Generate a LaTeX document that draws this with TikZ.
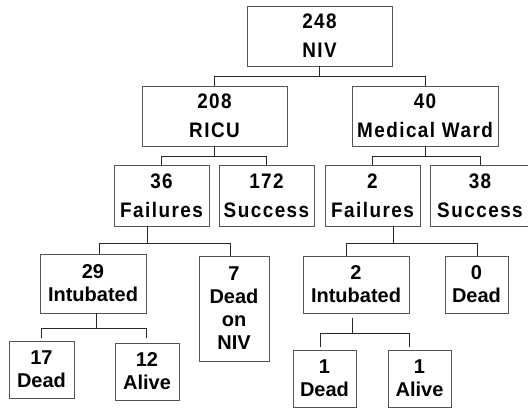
\documentclass[tikz,border=0pt]{standalone}
\usepackage{fontspec}
\usepackage{xcolor}
\newfontfamily\widesans[LetterSpace=7,FakeStretch=0.9]{Liberation Sans}
\newfontfamily\plainsans{Liberation Sans}
\definecolor{edgegray}{rgb}{0.33,0.33,0.33}

\begin{document}
\begin{tikzpicture}[x=1pt,y=-1pt,
    box/.style={draw=edgegray, line width=0.8pt, align=center, inner sep=0pt},
    upper/.style={box, font=\fontsize{21}{29}\selectfont\widesans\bfseries},
    lower/.style={box, font=\fontsize{20}{23}\selectfont\plainsans\bfseries},
    link/.style={draw=black!85, line width=0.7pt}]
    \useasboundingbox (0,0) rectangle (528,409);

    % Top level
    \node[upper, minimum width=145pt, minimum height=60pt] (niv) at (319.5,36) {248\\NIV};

    % Where NIV was given
    \node[upper, minimum width=145pt, minimum height=60pt] (ricu) at (214.5,116) {208\\RICU};
    \node[upper, minimum width=146pt, minimum height=60pt] (ward) at (425,116) {40\\Medical Ward};

    % Outcome of NIV
    \node[upper, minimum width=95pt, minimum height=61pt] (fail36) at (161.5,195.5) {36\\Failures};
    \node[upper, minimum width=95pt, minimum height=61pt] (succ172) at (266.5,195.5) {172\\Success};
    \node[upper, minimum width=95pt, minimum height=61pt] (fail2) at (372.5,195.5) {2\\Failures};
    \node[upper, minimum width=100pt, minimum height=61pt] (succ38) at (480,195.5) {38\\Success};

    % After failure
    \node[lower, minimum width=106pt, minimum height=59pt] (intub29) at (93,283.5) {29\\Intubated};
    \node[lower, minimum width=70pt, minimum height=105pt] (deadniv) at (234,308.5) {7\\Dead\\on\\NIV};
    \node[lower, minimum width=106pt, minimum height=57pt] (intub2) at (356,284.5) {2\\Intubated};
    \node[lower, minimum width=63pt, minimum height=57pt] (dead0) at (476.5,284.5) {0\\Dead};

    % After intubation
    \node[lower, minimum width=65pt, minimum height=57pt] (dead17) at (41.5,369.5) {17\\Dead};
    \node[lower, minimum width=64pt, minimum height=57pt] (alive12) at (147,371.5) {12\\Alive};
    \node[lower, minimum width=63pt, minimum height=57pt] (dead1) at (324.5,378.5) {1\\Dead};
    \node[lower, minimum width=63pt, minimum height=57pt] (alive1) at (419.5,378.5) {1\\Alive};

    % Connectors
    \draw[link] (niv.south) -- ++(0,10) -| (ricu.north);
    \draw[link] (niv.south) -- ++(0,10) -| (ward.north);
    \draw[link] (ricu.south) -- ++(0,10) -| (fail36.north);
    \draw[link] (ricu.south) -- ++(0,10) -| (succ172.north);
    \draw[link] (ward.south) -- ++(0,10) -| (fail2.north);
    \draw[link] (ward.south) -- ++(0,10) -| (succ38.north);

    \draw[link] ([xshift=-14.5pt]fail36.south) -- ++(0,17) -| ([xshift=6pt]intub29.north);
    \draw[link] ([xshift=-14.5pt]fail36.south) -- ++(0,17) -| ([xshift=-4pt]deadniv.north);
    \draw[link] ([xshift=20.5pt]fail2.south) -- ++(0,17) -| ([xshift=-10pt]intub2.north);
    \draw[link] ([xshift=20.5pt]fail2.south) -- ++(0,17) -| ([xshift=0.5pt]dead0.north);

    \draw[link, shorten >=3pt] ([xshift=3pt]intub29.south) -- ++(0,15) -| (dead17.north);
    \draw[link, shorten >=5pt] ([xshift=3pt]intub29.south) -- ++(0,15) -| ([xshift=-1pt]alive12.north);
    \draw[link, shorten <=5pt, shorten >=3pt] ([xshift=-4pt]intub2.south) -- ++(0,20) -| ([xshift=-4.5pt]dead1.north);
    \draw[link, shorten <=5pt, shorten >=3pt] ([xshift=-4pt]intub2.south) -- ++(0,20) -| ([xshift=-10.5pt]alive1.north);
\end{tikzpicture}
\end{document}
